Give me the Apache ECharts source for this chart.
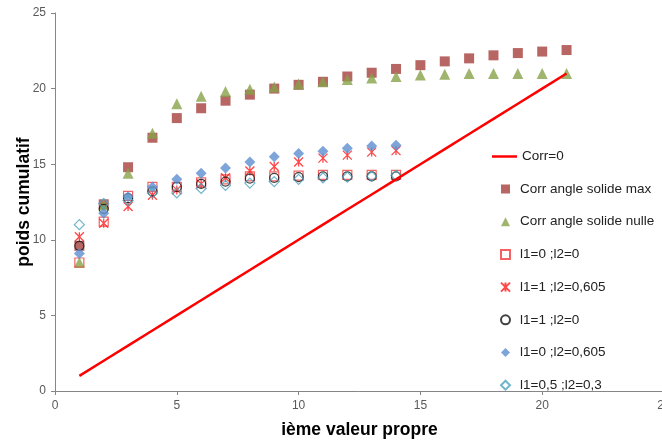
<!DOCTYPE html>
<html>
<head>
<meta charset="utf-8">
<script src="https://cdn.jsdelivr.net/npm/echarts@6/dist/echarts.min.js"></script>
<style>
  html, body { margin: 0; padding: 0; background: #fff; }
  #chart { width: 662px; height: 443px; }
</style>
</head>
<body>
<div id="chart"></div>
<script>
// rangs des valeurs propres
const rangsLong = [1, 2, 3, 4, 5, 6, 7, 8, 9, 10, 11, 12, 13, 14, 15, 16, 17, 18, 19, 20, 21];
const rangsCourt = [1, 2, 3, 4, 5, 6, 7, 8, 9, 10, 11, 12, 13, 14];

const corr0 = [1, 2, 3, 4, 5, 6, 7, 8, 9, 10, 11, 12, 13, 14, 15, 16, 17, 18, 19, 20, 21];
const corrMax = [9.6, 12.35, 14.8, 16.75, 18.05, 18.7, 19.2, 19.6, 20.0, 20.25, 20.45, 20.8, 21.05, 21.3, 21.55, 21.8, 22.0, 22.2, 22.35, 22.45, 22.55];
const corrNulle = [8.5, 12.3, 14.4, 17.05, 19.0, 19.5, 19.8, 19.95, 20.1, 20.3, 20.45, 20.6, 20.7, 20.8, 20.9, 20.95, 21.0, 21.0, 21.0, 21.0, 21.0];
const l1_0_l2_0 = [8.5, 11.2, 12.9, 13.5, 13.5, 13.8, 14.0, 14.2, 14.2, 14.25, 14.3, 14.3, 14.3, 14.3];
const l1_1_l2_0605 = [10.2, 11.1, 12.2, 12.95, 13.3, 13.7, 14.1, 14.55, 14.85, 15.15, 15.4, 15.6, 15.8, 15.9];
const l1_1_l2_0 = [9.6, 12.05, 12.75, 13.2, 13.5, 13.7, 13.85, 14.05, 14.1, 14.15, 14.2, 14.2, 14.2, 14.2];
const l1_0_l2_0605 = [9.1, 11.75, 12.85, 13.5, 14.0, 14.4, 14.75, 15.15, 15.5, 15.7, 15.85, 16.05, 16.2, 16.25];
const l1_05_l2_03 = [11.0, 12.4, 12.6, 13.1, 13.1, 13.4, 13.6, 13.75, 13.85, 14.0, 14.1, 14.15, 14.2, 14.25];

const xTicks = [0, 5, 10, 15, 20, 25];
const yTicks = [0, 5, 10, 15, 20, 25];

const nomsSeries = [
  'Corr=0',
  'Corr angle solide max',
  'Corr angle solide nulle',
  'l1=0 ;l2=0',
  'l1=1 ;l2=0,605',
  'l1=1 ;l2=0',
  'l1=0 ;l2=0,605',
  'l1=0,5 ;l2=0,3'
];

function zip(xs, ys) {
  return ys.map((y, i) => [xs[i], y]);
}

const etoile = 'path://M0,0L10,10M10,0L0,10M5,0L5,10';
const gris = '#868686';
const texteLegende = { fontSize: 13.5, color: '#222', lineHeight: 15, fontFamily: 'Liberation Sans' };

const myChart = echarts.init(document.getElementById('chart'));
const option = {
  animation: false,
  textStyle: { fontFamily: 'Liberation Sans' },
  grid: { left: 55, top: 13, right: -2, bottom: 52, containLabel: false, outerBoundsMode: 'none' },
  legend: [
    {
      // trait de la droite
      orient: 'vertical',
      left: 487,
      top: 144,
      itemWidth: 25,
      itemHeight: 2.5,
      icon: 'rect',
      textStyle: texteLegende,
      data: [nomsSeries[0]]
    },
    {
      orient: 'vertical',
      left: 495,
      top: 176.5,
      itemWidth: 9,
      itemHeight: 9,
      itemGap: 17.7,
      textStyle: Object.assign({ padding: [0, 0, 0, 5] }, texteLegende),
      data: nomsSeries.slice(1)
    }
  ],
  xAxis: {
    type: 'value',
    min: xTicks[0],
    max: xTicks[xTicks.length - 1],
    interval: 5,
    name: 'ième valeur propre',
    nameLocation: 'middle',
    nameGap: 30,
    nameMoveOverlap: false,
    nameTextStyle: { fontSize: 17.5, fontWeight: 'bold', color: '#000' },
    axisLine: { lineStyle: { color: gris } },
    axisTick: { lineStyle: { color: gris }, length: 4 },
    axisLabel: { color: '#595959', fontSize: 12, margin: 9, showMaxLabel: true },
    splitLine: { show: false }
  },
  yAxis: {
    type: 'value',
    min: yTicks[0],
    max: yTicks[yTicks.length - 1],
    interval: 5,
    name: 'poids cumulatif',
    nameLocation: 'middle',
    nameGap: 22,
    nameMoveOverlap: false,
    nameTextStyle: { fontSize: 17.5, fontWeight: 'bold', color: '#000' },
    axisLine: { show: true, lineStyle: { color: gris } },
    axisTick: { show: true, lineStyle: { color: gris }, length: 4 },
    axisLabel: { color: '#595959', fontSize: 12, margin: 9 },
    splitLine: { show: false }
  },
  series: [
    {
      name: nomsSeries[0],
      type: 'line',
      symbol: 'none',
      lineStyle: { color: '#FF0000', width: 2.5 },
      itemStyle: { color: '#FF0000' },
      data: zip(rangsLong, corr0)
    },
    {
      name: nomsSeries[1],
      type: 'scatter',
      symbol: 'rect',
      symbolSize: 10,
      itemStyle: { color: '#A5403D' },
      data: zip(rangsLong, corrMax)
    },
    {
      name: nomsSeries[2],
      type: 'scatter',
      symbol: 'triangle',
      symbolSize: 11,
      itemStyle: { color: '#87A24A' },
      data: zip(rangsLong, corrNulle)
    },
    {
      name: nomsSeries[3],
      type: 'scatter',
      symbol: 'rect',
      symbolSize: 9,
      itemStyle: { color: 'rgba(255,255,255,0)', borderColor: '#F03C3C', borderWidth: 1.2 },
      data: zip(rangsCourt, l1_0_l2_0)
    },
    {
      name: nomsSeries[4],
      type: 'scatter',
      symbol: etoile,
      symbolSize: 9,
      itemStyle: { color: 'rgba(255,255,255,0)', borderColor: '#FF1A1A', borderWidth: 1.3 },
      data: zip(rangsCourt, l1_1_l2_0605)
    },
    {
      name: nomsSeries[5],
      type: 'scatter',
      symbol: 'circle',
      symbolSize: 9,
      itemStyle: { color: 'rgba(255,255,255,0)', borderColor: '#111', borderWidth: 1.2 },
      data: zip(rangsCourt, l1_1_l2_0)
    },
    {
      name: nomsSeries[6],
      type: 'scatter',
      symbol: 'diamond',
      symbolSize: 11,
      itemStyle: { color: '#5E8ED0' },
      data: zip(rangsCourt, l1_0_l2_0605)
    },
    {
      name: nomsSeries[7],
      type: 'scatter',
      symbol: 'diamond',
      symbolSize: 10,
      itemStyle: { color: 'rgba(255,255,255,0)', borderColor: '#4BA3BF', borderWidth: 1.2 },
      data: zip(rangsCourt, l1_05_l2_03)
    }
  ]
};
myChart.setOption(option);
</script>
</body>
</html>
